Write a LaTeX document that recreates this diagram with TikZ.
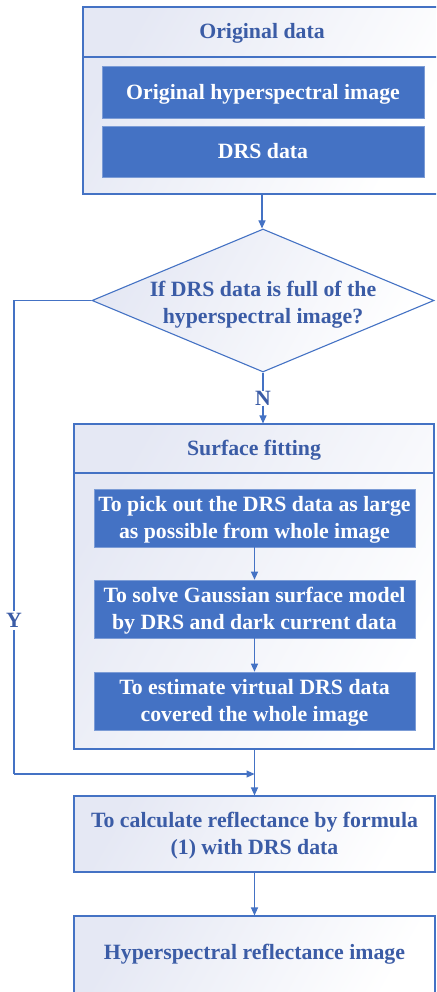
\documentclass[tikz,border=0pt]{standalone}
\usepackage{fontspec}
\setmainfont{Liberation Serif}
\usetikzlibrary{arrows.meta,shapes.geometric}
\definecolor{mblue}{HTML}{4472C4}
\definecolor{tblue}{HTML}{3B5CA6}
\definecolor{lav}{HTML}{E5E8F4}
\begin{document}
\begin{tikzpicture}[x=1pt,y=-1pt,
  frame/.style={draw=mblue, line width=1.1pt, left color=lav, right color=white, shading angle=60},
  bluebox/.style={draw=mblue!70, line width=0.6pt, fill=mblue, text=white, font=\fontsize{21.8}{27}\selectfont\bfseries, align=center, inner sep=0pt, text depth=1pt},
  htext/.style={text=tblue, font=\fontsize{21.8}{27}\selectfont\bfseries, align=center, inner sep=0pt, yshift=-1.5pt},
  conn/.style={draw=mblue, line width=1.1pt},
  arr/.style={conn, -{Triangle[length=8pt,width=7pt]}}
]
\useasboundingbox (0,0) rectangle (436,992);
\clip (0,0) rectangle (436,992);
\fill[white] (0,0) rectangle (436,992);

% Original data group
\node[frame, minimum width=357pt, minimum height=187pt, inner sep=0pt] (odata) at (261.5,100.5) {};
\node[htext] (ohead) at (262,32) {Original data};
\draw[conn] (odata.west |- 0,57) -- (odata.east |- 0,57);
\node[bluebox, minimum width=322pt, minimum height=52pt] (ohsi) at (263,92) {Original hyperspectral image};
\node[bluebox, minimum width=322pt, minimum height=51pt] (odrs) at (263,151.5) {DRS data};

% Decision
\node[diamond, frame, minimum width=342pt, minimum height=143pt, inner sep=0pt] (dec) at (263,300.5) {};
\node[htext] (dect) at (263,303) {If DRS data is full of the\\hyperspectral image?};

% N label
\node[htext] (nlab) at (263,397) {N};

% Surface fitting group
\node[frame, minimum width=360pt, minimum height=325pt, inner sep=0pt] (surf) at (254,586.5) {};
\node[htext] (shead) at (254,449) {Surface fitting};
\draw[conn] (surf.west |- 0,473) -- (surf.east |- 0,473);
\node[bluebox, minimum width=321pt, minimum height=58pt] (sa) at (254.5,518) {To pick out the DRS data as large\\as possible from whole image};
\node[bluebox, minimum width=321pt, minimum height=58pt] (sb) at (254.5,609) {To solve Gaussian surface model\\by DRS and dark current data};
\node[bluebox, minimum width=321pt, minimum height=58pt] (sc) at (254.5,701) {To estimate virtual DRS data\\covered the whole image};

% Calculation
\node[frame, minimum width=361pt, minimum height=76pt, inner sep=0pt] (calc) at (254.5,834) {};
\node[htext] (calct) at (254.5,834) {To calculate reflectance by formula\\(1) with DRS data};
% Final
\node[frame, minimum width=361pt, minimum height=84pt, inner sep=0pt] (final) at (254.5,958) {};
\node[htext] (finalt) at (254.5,953) {Hyperspectral reflectance image};

% Connectors
\draw[arr] (odata.south -| 262,0) -- (262,0 |- dec.north);
\draw[conn] (dec.south) -- (nlab.north);
\draw[arr] (nlab.south) -- (nlab.south |- surf.north);
\draw[arr] (sa) -- (sb);
\draw[arr] (sb) -- (sc);
\coordinate (yturn) at (14,300.5);
\coordinate (ybot) at (14,774);
\coordinate (merge) at (254.5,774);
\draw[conn] (dec.west) -- (yturn) -- (ybot);
\draw[arr] (ybot) -- (merge);
\draw[arr] (surf.south -| calc.north) -- (calc.north);
\draw[arr] (calc) -- (final);
\node[htext, fill=white, inner sep=2pt] (ylab) at (14,619) {Y};
\end{tikzpicture}
\end{document}
